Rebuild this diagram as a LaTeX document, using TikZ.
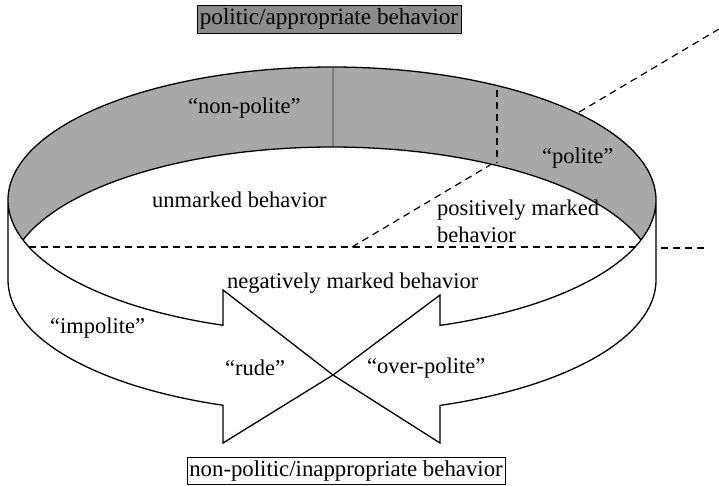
\documentclass[tikz,border=0pt]{standalone}
\usepackage{fontspec}
\setmainfont{Liberation Serif}
\begin{document}
\begin{tikzpicture}[x=1pt,y=-1pt,
  lbl/.style={anchor=base west, inner sep=0pt, font=\fontsize{22.5}{26}\selectfont},
  boxlbl/.style={draw=black, line width=0.9pt, inner sep=0pt},
  rim/.style={line width=1.3pt, line join=miter},
  dashline/.style={dash pattern=on 7pt off 5pt, line width=1.2pt},
  band/.style={fill=black!34},
  seam/.style={draw=black!52, line width=2pt}]
\useasboundingbox (0,0) rectangle (719,485);
% background dashed lines
\coordinate (dStart) at (352,247);
\coordinate (dEnd) at (719,29);
\draw[dashline] (dStart) -- (dEnd);
\coordinate (hL) at (29,247);
\coordinate (hR) at (637,247);
\draw[dashline] (hL) -- (hR);
\coordinate (oL) at (661,248);
\coordinate (oR) at (707,248);
\draw[dashline] (oL) -- (oR);
% grey inner wall
\fill[band] plot[domain=180:-17.5,samples=140,variable=\t] ({332+324*cos(\t)},{200-133*sin(\t)})
  -- plot[domain=17.5:162.5,samples=120,variable=\t] ({332+324*cos(\t)},{280-133*sin(\t)})
  -- plot[domain=197.5:180,samples=20,variable=\t] ({332+324*cos(\t)},{200-133*sin(\t)}) -- cycle;
% seam and vertical dashed line
\coordinate (sTop) at (333,68);
\coordinate (sBot) at (333,146);
\draw[seam] (sTop) -- (sBot);
\coordinate (vTop) at (497,90);
\coordinate (vBot) at (497,163);
\draw[dashline] (vTop) -- (vBot);
% rims
\draw[rim] plot[domain=180:0,samples=140,variable=\t] ({332+324*cos(\t)},{200-133*sin(\t)});
\draw[rim] plot[domain=17.5:162.5,samples=120,variable=\t] ({332+324*cos(\t)},{280-133*sin(\t)});
% arrows
\coordinate (tip) at (333,375);
\coordinate (lUp) at (223,290);
\coordinate (lDn) at (223,443);
\coordinate (rUp) at (440,295);
\coordinate (rDn) at (440,443);
\draw[rim] (tip) -- (lUp)
  -- plot[domain=250.34:180,samples=60,variable=\t] ({332+324*cos(\t)},{200-133*sin(\t)})
  -- plot[domain=180:250.34,samples=60,variable=\t] ({332+324*cos(\t)},{280-133*sin(\t)})
  -- (lDn) -- cycle;
\draw[rim] (tip) -- (rUp)
  -- plot[domain=-70.53:0,samples=60,variable=\t] ({332+324*cos(\t)},{200-133*sin(\t)})
  -- plot[domain=0:-70.53,samples=60,variable=\t] ({332+324*cos(\t)},{280-133*sin(\t)})
  -- (rDn) -- cycle;
% boxes
\node[boxlbl, fill=black!45, minimum width=264pt, minimum height=28pt, font=\fontsize{23.2}{26}\selectfont] (topbox) at (329,19) {politic/appropriate behavior};
\node[boxlbl, fill=white, minimum width=318pt, minimum height=27pt, font=\fontsize{22.8}{26}\selectfont] (botbox) at (346,471) {non-politic/inappropriate behavior};
% labels
\node[lbl] (nonpolite) at (188,113) {“non-polite”};
\node[lbl] (unmarked) at (152,207) {unmarked behavior};
\node[lbl] (polite) at (542,163) {“polite”};
\node[lbl] (posmark) at (437,215) {positively marked};
\node[lbl] (posbeh) at (437,242) {behavior};
\node[lbl] (negmark) at (227,288) {negatively marked behavior};
\node[lbl] (impolite) at (50,333) {“impolite”};
\node[lbl] (rude) at (225,375) {“rude”};
\node[lbl] (overpolite) at (367,373) {“over-polite”};
\end{tikzpicture}
\end{document}
